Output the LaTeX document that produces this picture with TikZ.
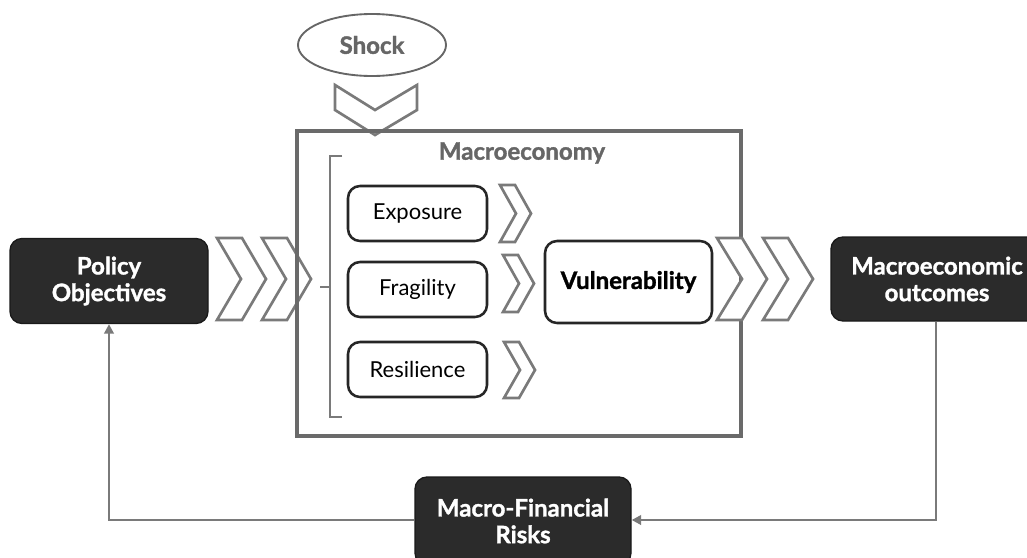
\documentclass[tikz,border=0pt]{standalone}
\usepackage{fontspec}
\setmainfont{Lato}[BoldFeatures={FakeBold=1.4}]
\usetikzlibrary{arrows.meta,shapes.geometric}
\definecolor{darkbox}{HTML}{2B2B2B}
\definecolor{darkedge}{HTML}{1A1A1A}
\definecolor{chevgray}{HTML}{7A7A7A}
\definecolor{framegray}{HTML}{6A6A6A}
\definecolor{titlegray}{HTML}{666666}
\tikzset{
  darknode/.style={draw=darkedge, fill=darkbox, line width=1pt, rounded corners=9,
    text=white, font=\fontsize{18}{20}\selectfont\bfseries, align=center, inner sep=0pt},
  lightnode/.style={draw=black!85, fill=white, line width=1.9pt, rounded corners=9,
    font=\fontsize{16.5}{19}\selectfont, align=center, inner sep=0pt},
  chevshape/.style={draw=chevgray, fill=white, line width=2pt, line join=miter},
  conn/.style={draw=chevgray, line width=1.9pt, -{Triangle[length=7pt,width=7pt]}},
}
% right-pointing chevron: left x, top y, height, thickness, depth
\newcommand\rchev[5]{%
  \draw[chevshape] (#1,#2) -- ++(#4,0) -- ++(#5,#3/2) -- ++(-#5,#3/2) -- ++(-#4,0)
    -- ++(#5,-#3/2) -- cycle;}
\begin{document}
\begin{tikzpicture}[x=0.75pt,y=-0.75pt]
\fill[white] (0,0) rectangle (1027,557);
\clip (0,0) rectangle (1027,557);

% shock and its downward chevron
\node[draw=titlegray, line width=1.4pt, ellipse, minimum width=148*0.75pt,
  minimum height=62*0.75pt, inner sep=0pt, text=titlegray,
  font=\fontsize{18}{20}\selectfont\bfseries] (shock) at (372,45) {Shock};
\draw[chevshape] (335,85) -- (375,110) -- (417,85) -- (417,110) -- (375,135)
  -- (335,110) -- cycle;

% chevrons entering the macroeconomy
\rchev{217}{238}{82}{25}{24}
\rchev{262}{238}{82}{25}{24}

% macroeconomy frame
\draw[framegray, line width=2.5pt] (297,131) rectangle (741,436);
\node[text=titlegray, font=\fontsize{18}{20}\selectfont\bfseries] (macro) at (522,153) {Macroeconomy};

% bracket grouping the three components
\draw[chevgray, line width=1.9pt] (342,156) -- (330,156) -- (330,417) -- (342,417);
\draw[chevgray, line width=1.9pt] (320,287) -- (330,287);

% components
\node[lightnode, minimum width=139*0.75pt, minimum height=55*0.75pt] (exp) at (417.5,213.5) {Exposure};
\node[lightnode, minimum width=139*0.75pt, minimum height=55*0.75pt] (fra) at (417.5,289.5) {Fragility};
\node[lightnode, minimum width=139*0.75pt, minimum height=55*0.75pt] (res) at (417.5,369.5) {Resilience};
\rchev{500}{185}{57}{15}{16}
\rchev{503}{255}{57}{15}{16}
\rchev{504}{342}{56}{15}{16}

\node[lightnode, minimum width=167*0.75pt, minimum height=82*0.75pt,
  font=\fontsize{18}{20}\selectfont\bfseries] (vul) at (628.5,282) {Vulnerability};

% chevrons leaving the macroeconomy
\rchev{717}{238}{82}{25}{25}
\rchev{763}{238}{82}{25}{25}

% outer boxes
\node[darknode, minimum width=198*0.75pt, minimum height=85*0.75pt] (pol) at (109,281) {Policy\\Objectives};
\node[darknode, minimum width=212*0.75pt, minimum height=84*0.75pt] (out) at (937,279) {Macroeconomic\\outcomes};
\node[darknode, minimum width=216*0.75pt, minimum height=88*0.75pt] (mfr) at (523,521) {Macro-Financial\\Risks};

% feedback loop
\coordinate (c1) at (936,520);
\coordinate (c2) at (109,520);
\draw[conn] (out.south -| c1) -- (c1) -- (c1 -| mfr.east);
\draw[conn] (c2 -| mfr.west) -- (c2) -- (pol.south);
\end{tikzpicture}
\end{document}
